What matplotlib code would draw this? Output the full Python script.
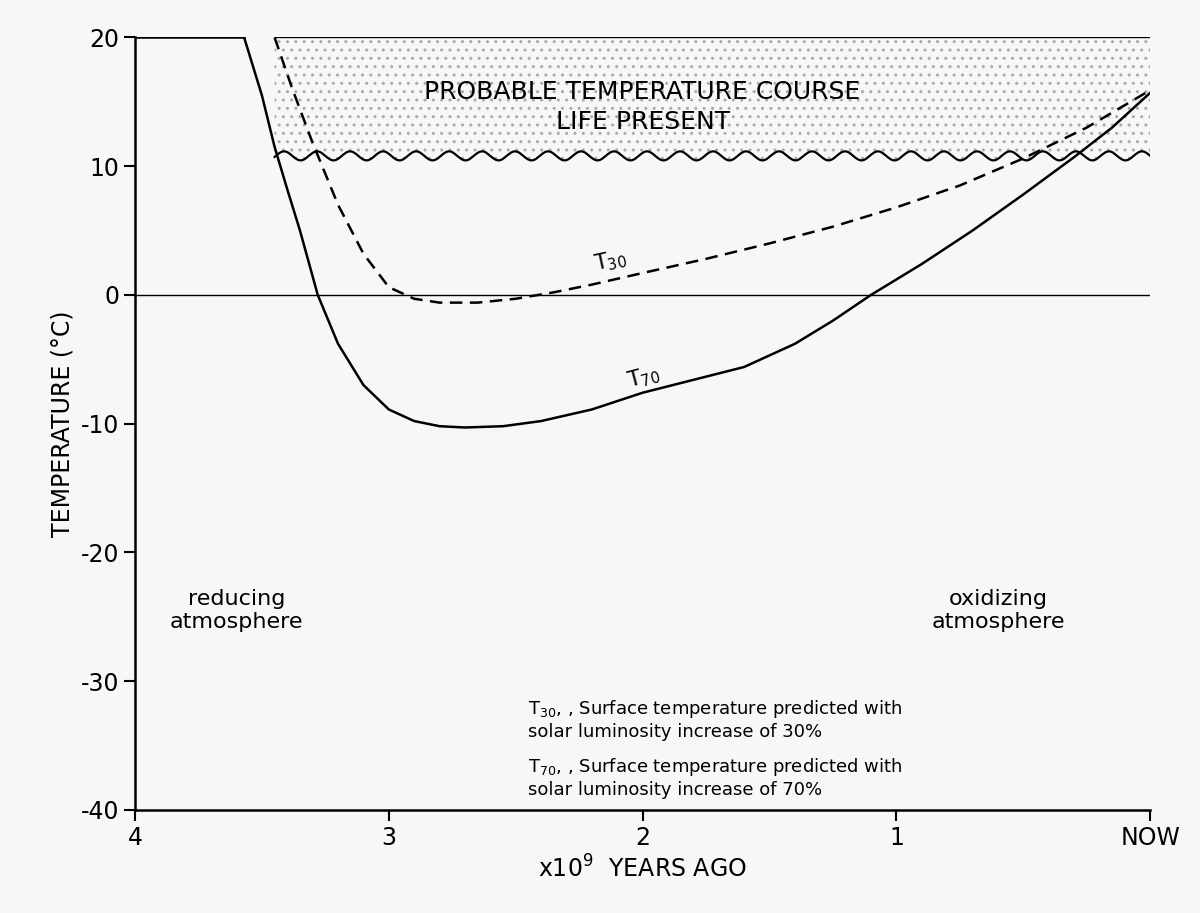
import numpy as np
from matplotlib import pyplot as plt

# values (x = 10^9 years ago)
t70_x = [3.57, 3.5, 3.45, 3.4, 3.35, 3.28, 3.2, 3.1, 3.0, 2.9, 2.8, 2.7, 2.55, 2.4, 2.2, 2.0, 1.8, 1.6,
         1.4, 1.25, 1.1, 0.9, 0.7, 0.5, 0.3, 0.15, 0.0]
t70_y = [20, 15.5, 11.5, 8.2, 5.0, 0.0, -3.8, -7.0, -8.9, -9.8, -10.2, -10.3, -10.2, -9.8, -8.9, -7.6, -6.6,
         -5.6, -3.8, -2.0, 0.0, 2.4, 5.0, 7.8, 10.7, 13.0, 15.7]
t30_x = [3.45, 3.38, 3.3, 3.2, 3.1, 3.0, 2.9, 2.8, 2.65, 2.5, 2.35, 2.2, 2.0, 1.75, 1.5, 1.25, 1.0,
         0.75, 0.5, 0.25, 0.0]
t30_y = [20, 16.0, 11.8, 7.0, 3.2, 0.6, -0.3, -0.6, -0.6, -0.3, 0.2, 0.8, 1.7, 2.8, 4.0, 5.3, 6.8,
         8.5, 10.6, 13.0, 15.9]
yticks = [20, 10, 0, -10, -20, -30, -40]
xticks = [4, 3, 2, 1, 0]
xticklabels = ['4', '3', '2', '1', 'NOW']

plt.rcParams['font.family'] = 'DejaVu Sans'
plt.rcParams['hatch.color'] = '#aaaaaa'
fig = plt.figure(figsize=(12, 9.13), dpi=100, facecolor='#f7f7f5')
ax = fig.add_axes([0.1125, 0.113, 0.846, 0.846])
ax.set_facecolor('#f7f7f5')

# wavy lower boundary of the "life present" band
wx = np.linspace(0, 3.45, 800)
wy = 10.8 + 0.35 * np.sin(wx * 2 * np.pi / 0.13)
ax.fill_between(wx, wy, 20, facecolor='none', edgecolor='#aaaaaa', hatch='..', linewidth=0)
ax.plot(wx, wy, color='black', lw=1.6)

ax.plot(t70_x, t70_y, color='black', lw=1.8)
ax.plot(t30_x, t30_y, color='black', lw=1.8, ls=(0, (5, 3)))
ax.axhline(0, color='black', lw=1)
ax.plot([4, 3.57], [20, 20], color='black', lw=1.8)
ax.plot([3.45, 0], [20, 20], color='black', lw=1)

ax.set_xlim(4, 0)
ax.set_ylim(-40, 20)
ax.set_xticks(xticks)
ax.set_xticklabels(xticklabels)
ax.set_yticks(yticks)
ax.set_yticklabels(['20', '10', '0', '-10', '-20', '-30', '-40'])
ax.tick_params(labelsize=17, length=8, width=1.5, direction='out')
for s in ['top', 'right']:
    ax.spines[s].set_visible(False)
for s in ['left', 'bottom']:
    ax.spines[s].set_linewidth(1.8)

ax.set_xlabel('x10$^9$  YEARS AGO', fontsize=17, labelpad=4)
ax.set_ylabel('TEMPERATURE (°C)', fontsize=17)

ax.text(2.0, 14.6, 'PROBABLE TEMPERATURE COURSE\nLIFE PRESENT', ha='center', va='center',
        fontsize=18, linespacing=1.3)
ax.text(2.2, 1.9, 'T$_{30}$', fontsize=15, rotation=12)
ax.text(2.07, -7.2, 'T$_{70}$', fontsize=15, rotation=15)
ax.text(3.6, -24.5, 'reducing\natmosphere', ha='center', va='center', fontsize=16)
ax.text(0.6, -24.5, 'oxidizing\natmosphere', ha='center', va='center', fontsize=16)
ax.text(2.45, -33, 'T$_{30}$, , Surface temperature predicted with\nsolar luminosity increase of 30%',
        fontsize=13, va='center')
ax.text(2.45, -37.5, 'T$_{70}$, , Surface temperature predicted with\nsolar luminosity increase of 70%',
        fontsize=13, va='center')

plt.savefig('out.png', dpi=100, facecolor=fig.get_facecolor())
